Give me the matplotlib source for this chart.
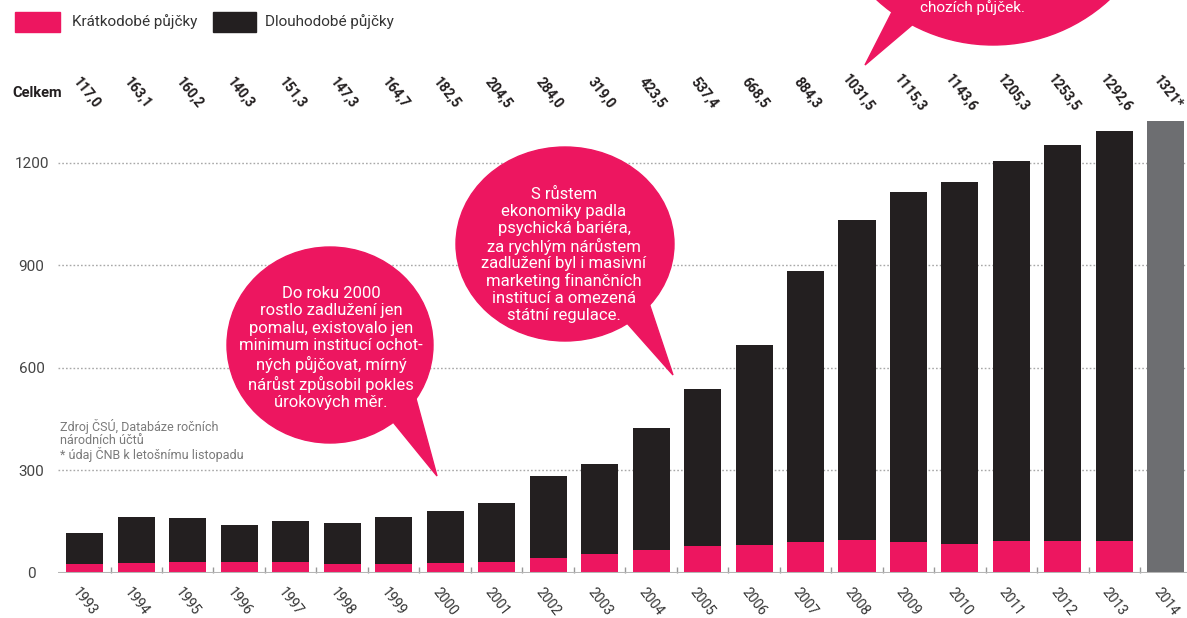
import matplotlib.pyplot as plt
from matplotlib.patches import Ellipse, Polygon, Rectangle
from matplotlib.transforms import blended_transform_factory

plt.rcParams['font.family'] = ['Roboto', 'DejaVu Sans']

years = [str(y) for y in range(1993, 2015)]
totals = [117.0, 163.1, 160.2, 140.3, 151.3, 147.3, 164.7, 182.5, 204.5, 284.0, 319.0,
          423.5, 537.4, 668.5, 884.3, 1031.5, 1115.3, 1143.6, 1205.3, 1253.5, 1292.6, 1321]
short = [25, 29, 33, 33, 31, 26, 26, 28, 32, 45, 57, 68, 79, 82, 90, 97, 90, 86, 93, 95, 93]
total_labels = [f'{v:.1f}'.replace('.', ',') for v in totals[:-1]] + ['1321*']
series_names = ['Krátkodobé půjčky', 'Dlouhodobé půjčky']
yticks = [0, 300, 600, 900, 1200]

PINK = '#ED1660'
BLACK = '#231F20'
GREY = '#6D6E71'

W, H = 1187, 618
fig = plt.figure(figsize=(W / 100, H / 100), dpi=100)
ax = fig.add_axes([58 / W, 45 / H, (W - 58) / W, 458 / H])

x = list(range(len(years)))
n = len(short)
long_ = [t - s for t, s in zip(totals[:n], short)]
bw = 0.72
ax.bar(x[:n], short, bw, color=PINK, zorder=3)
ax.bar(x[:n], long_, bw, bottom=short, color=BLACK, zorder=3)
ax.bar(x[n:], totals[n:], bw, color=GREY, zorder=3)

ax.set_xlim(-0.52, len(years) - 1 + 0.41)
ax.set_ylim(0, 1340)
for s in ax.spines.values():
    s.set_visible(False)
ax.axhline(0, color='#b5b5b5', lw=2.2, zorder=4)
for v in yticks[1:]:
    ax.axhline(v, color='#a8a8a8', lw=1, ls=(0, (1.2, 1.5)), zorder=1)

ax.set_yticks(yticks)
ax.set_yticklabels([str(v) for v in yticks], ha='center', fontsize=11, color='#444444')
ax.tick_params(axis='y', length=0, pad=19)
ax.set_xticks(x)
ax.set_xticklabels(years, rotation=-52, ha='center', va='top', fontsize=10, color='#333333')
ax.tick_params(axis='x', length=0, pad=9)
ax.set_xticks([i - 0.5 for i in x[1:]], minor=True)
ax.tick_params(axis='x', which='minor', length=4, direction='in', color='#999999', width=1)

# totals row
tr = blended_transform_factory(ax.transData, fig.transFigure)
for xi, lab in zip(x, total_labels):
    ax.text(xi + 0.03, 1 - 93 / H, lab, transform=tr, rotation=-52, ha='center', va='center',
            fontsize=10, fontweight='bold', color=BLACK, clip_on=False)

# overlay in pixel coordinates for legend and callouts
ov = fig.add_axes([0, 0, 1, 1], zorder=5)
ov.set_xlim(0, W)
ov.set_ylim(H, 0)
ov.axis('off')

ov.text(12, 93, 'Celkem', fontsize=10.5, fontweight='bold', color=BLACK, va='center', ha='left')

ov.add_patch(Rectangle((15, 12), 45, 20, color=PINK))
ov.text(72, 22, series_names[0], fontsize=11, color='#333333', va='center')
ov.add_patch(Rectangle((213, 12), 43, 20, color=BLACK))
ov.text(265, 22, series_names[1], fontsize=11, color='#333333', va='center')

ov.text(60, 440, 'Zdroj ČSÚ, Databáze ročních\nnárodních účtů\n* údaj ČNB k letošnímu listopadu',
        fontsize=9, color='#7a7a7a', va='center', ha='left', linespacing=1.0)

# callout 1
ov.add_patch(Ellipse((330, 345), 206, 196, color=PINK))
ov.add_patch(Polygon([(393, 422), (415, 395), (437, 476)], color=PINK))
ov.text(331, 348, 'Do roku 2000\nrostlo zadlužení jen\npomalu, existovalo jen\nminimum institucí ochot-\n'
        'ných půjčovat, mírný\nnárůst způsobil pokles\núrokových měr.',
        ha='center', va='center', color='white', fontsize=12, linespacing=1.2)

# callout 2
ov.add_patch(Ellipse((565, 244), 218, 194, color=PINK))
ov.add_patch(Polygon([(626, 322), (648, 300), (673, 375)], color=PINK))
ov.text(564, 255, 'S růstem\nekonomiky padla\npsychická bariéra,\nza rychlým nárůstem\n'
        'zadlužení byl i masivní\nmarketing finančních\ninstitucí a omezená\nstátní regulace.',
        ha='center', va='center', color='white', fontsize=12, linespacing=1.14)

# callout 3 (mostly above the picture)
ov.add_patch(Ellipse((993, -127), 344, 344, color=PINK))
ov.add_patch(Polygon([(893, 10), (918, 20), (865, 65)], color=PINK))
ov.text(973, 0.5, 'chozích půjček.', ha='center', va='top', color='white', fontsize=11)

fig.savefig('out.png', dpi=100)
